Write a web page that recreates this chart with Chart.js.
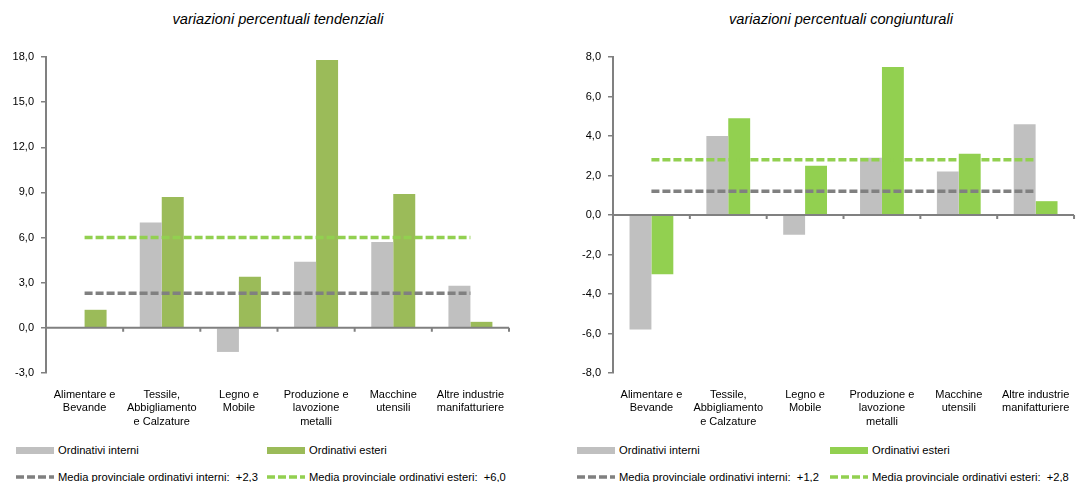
<!DOCTYPE html>
<html><head><meta charset="utf-8">
<script src="https://cdn.jsdelivr.net/npm/chart.js@4"></script>
<style>
body{margin:0;width:1085px;height:482px;background:#fff;position:relative;overflow:hidden;font-family:"Liberation Sans",Arial,sans-serif;}
.title{position:absolute;top:11px;font-style:italic;font-size:14.6px;color:#000;white-space:nowrap;transform:translateX(-50%);}
.cw{position:absolute;top:0;width:540px;height:440px;}
.leg{position:absolute;font-size:11.2px;color:#000;white-space:nowrap;display:flex;align-items:center;height:14px;}
.sw{width:38px;height:7px;margin-right:4px;}
</style></head>
<body>
<div class="title" style="left:278px">variazioni percentuali tendenziali</div>
<div class="title" style="left:841px">variazioni percentuali congiunturali</div>
<div class="cw" style="left:0"><canvas id="c1"></canvas></div>
<div class="cw" style="left:545px"><canvas id="c2"></canvas></div>
<div id="legs"></div>
<script>
const categories = [["Alimentare e","Bevande"],["Tessile,","Abbigliamento","e Calzature"],["Legno e","Mobile"],["Produzione e","lavozione","metalli"],["Macchine","utensili"],["Altre industrie","manifatturiere"]];
// tendenziali
const tendInterni = [0, 7.0, -1.6, 4.4, 5.7, 2.8];
const tendEsteri = [1.2, 8.7, 3.4, 17.8, 8.9, 0.4];
const tendMediaInterni = [2.3, 2.3, 2.3, 2.3, 2.3, 2.3];
const tendMediaEsteri = [6.0, 6.0, 6.0, 6.0, 6.0, 6.0];
const tendTicks = {min: -3, max: 18, step: 3};
// congiunturali
const congInterni = [-5.8, 4.0, -1.0, 2.9, 2.2, 4.6];
const congEsteri = [-3.0, 4.9, 2.5, 7.5, 3.1, 0.7];
const congMediaInterni = [1.2, 1.2, 1.2, 1.2, 1.2, 1.2];
const congMediaEsteri = [2.8, 2.8, 2.8, 2.8, 2.8, 2.8];
const congTicks = {min: -8, max: 8, step: 2};

const GRAY = '#C0C0C0', GREEN1 = '#9BBB59', GREEN2 = '#92D050', DGRAY = '#808080', LGREEN = '#92D050';

const zeroLine = {
  id: 'zeroLine',
  afterDatasetsDraw(chart) {
    const {ctx, chartArea, scales} = chart;
    const y0 = scales.y.getPixelForValue(0);
    ctx.save();
    ctx.strokeStyle = DGRAY;
    ctx.lineWidth = 2;
    ctx.beginPath();
    ctx.moveTo(chartArea.left, y0);
    ctx.lineTo(chartArea.right, y0);
    const n = chart.data.labels.length;
    const w = (chartArea.right - chartArea.left) / n;
    for (let i = 1; i <= n; i++) {
      const x = chartArea.left + i * w;
      ctx.moveTo(x, y0);
      ctx.lineTo(x, y0 + 4);
    }
    ctx.stroke();
    ctx.restore();
  }
};

function fmt(v){ return v.toFixed(1).replace('.', ','); }

function make(id, interni, esteri, mInt, mEst, t, green, yWidth, padRight) {
  new Chart(document.getElementById(id), {
    type: 'bar',
    data: {
      labels: categories,
      datasets: [
        {type:'line', label:'mi', data:mInt, borderColor:DGRAY, borderWidth:3.5, borderDash:[8,3], pointRadius:0, fill:false, order:0},
        {type:'line', label:'me', data:mEst, borderColor:LGREEN, borderWidth:3.5, borderDash:[8,3], pointRadius:0, fill:false, order:0},
        {label:'Ordinativi interni', data:interni, backgroundColor:GRAY, order:1},
        {label:'Ordinativi esteri', data:esteri, backgroundColor:green, order:1}
      ]
    },
    options: {
      responsive: true, maintainAspectRatio: false, animation: false,
      layout: {padding: {top: 57, right: padRight, left: 0, bottom: 0}},
      plugins: {legend: {display:false}, tooltip: {enabled:false}},
      datasets: {bar: {barPercentage: 1.0, categoryPercentage: 0.57}},
      scales: {
        x: {
          grid: {display:false, drawTicks:false},
          border: {display:false},
          ticks: {font:{family:'"Liberation Sans", Arial, sans-serif', size:11, lineHeight:1.23}, color:'#000', maxRotation:0, autoSkip:false, padding:15},
          afterFit: s => { s.height = 67; }
        },
        y: {
          min: t.min, max: t.max,
          grid: {drawOnChartArea:false, drawTicks:true, tickLength:5, color:DGRAY, lineWidth:1.5},
          border: {display:true, color:DGRAY, width:2},
          ticks: {stepSize:t.step, font:{family:'"Liberation Sans", Arial, sans-serif', size:11}, color:'#000', padding:7, callback: v => fmt(v)},
          afterFit: s => { s.width = yWidth; }
        }
      }
    },
    plugins: [zeroLine]
  });
}

make('c1', tendInterni, tendEsteri, tendMediaInterni, tendMediaEsteri, tendTicks, GREEN1, 46, 31);
make('c2', congInterni, congEsteri, congMediaInterni, congMediaEsteri, congTicks, GREEN2, 68, 9);

function dashSvg(color){
  return '<svg width="38" height="6" style="margin-right:4px"><line x1="0" y1="3" x2="38" y2="3" stroke="'+color+'" stroke-width="3.5" stroke-dasharray="8,3"/></svg>';
}
const legs = [
  {x:16, y:443, html:'<div class="sw" style="background:'+GRAY+'"></div>Ordinativi interni'},
  {x:267, y:443, html:'<div class="sw" style="background:'+GREEN1+'"></div>Ordinativi esteri'},
  {x:16, y:470, html:dashSvg(DGRAY)+'Media provinciale ordinativi interni:&nbsp; +2,3'},
  {x:267, y:470, html:dashSvg(LGREEN)+'Media provinciale ordinativi esteri:&nbsp; +6,0'},
  {x:577, y:443, html:'<div class="sw" style="background:'+GRAY+'"></div>Ordinativi interni'},
  {x:830, y:443, html:'<div class="sw" style="background:'+GREEN2+'"></div>Ordinativi esteri'},
  {x:577, y:470, html:dashSvg(DGRAY)+'Media provinciale ordinativi interni:&nbsp; +1,2'},
  {x:830, y:470, html:dashSvg(LGREEN)+'Media provinciale ordinativi esteri:&nbsp; +2,8'}
];
const lc = document.getElementById('legs');
legs.forEach(l => {
  const d = document.createElement('div');
  d.className = 'leg';
  d.style.left = l.x + 'px'; d.style.top = l.y + 'px';
  d.innerHTML = l.html;
  lc.appendChild(d);
});
</script>
</body></html>
